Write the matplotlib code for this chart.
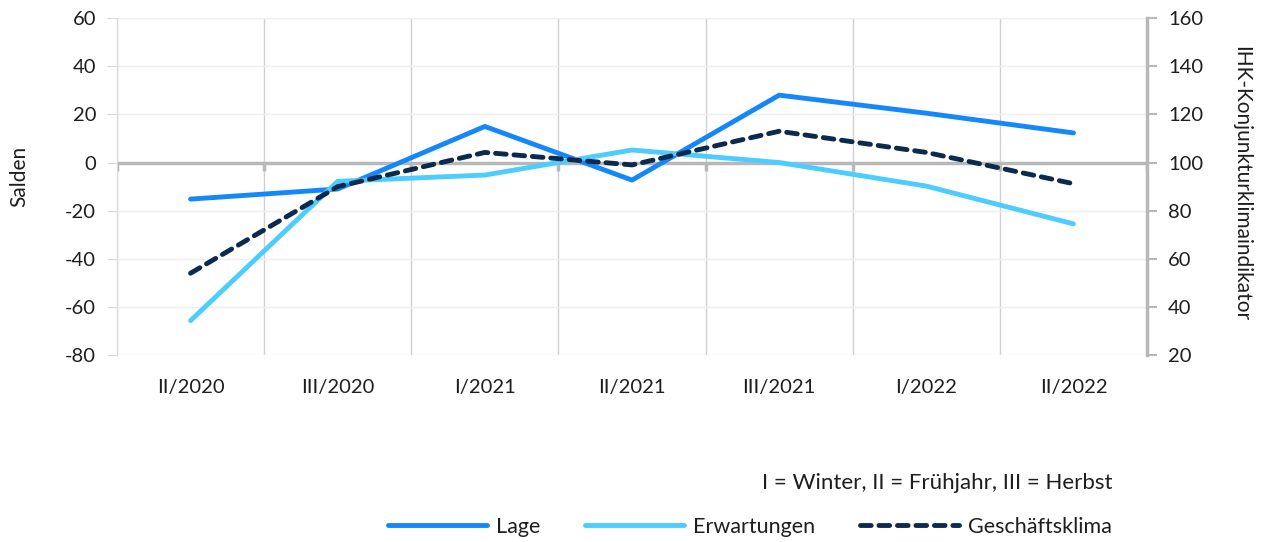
import numpy as np
import matplotlib.pyplot as plt
from matplotlib.lines import Line2D

plt.rcParams['font.family'] = ['Lato', 'DejaVu Sans']
plt.rcParams['axes.unicode_minus'] = False

quartale = ['II/2020', 'III/2020', 'I/2021', 'II/2021', 'III/2021', 'I/2022', 'II/2022']
lage = [-15.2, -11.0, 15.0, -7.3, 28.0, 20.5, 12.3]
erwartungen = [-65.7, -7.8, -5.2, 5.2, 0.0, -9.8, -25.5]
geschaeftsklima = [54.0, 90.0, 104.2, 99.0, 113.0, 104.2, 91.2]

c_lage = '#1487fb'
c_erw = '#4dcdfd'
c_klima = '#0c2a4d'
grau = '#b8b8b8'
txt = '#1e1e1e'

fig = plt.figure(figsize=(12.69, 5.42), dpi=100)
ax = fig.add_axes([0.0922, 0.345, 0.8117, 0.6215])
ax2 = ax.twinx()

x = np.arange(len(quartale))
grenzen = np.arange(-0.5, len(quartale) + 0.5, 1)

# Gitter
for b in grenzen:
    ax.axvline(b, color='#d0d0d0', lw=1.0, zorder=0)
for yv in range(-80, 61, 20):
    if yv != 0:
        ax.axhline(yv, color='#efefef', lw=1.0, zorder=0)
ax.axhline(0, color=grau, lw=2.5, zorder=1)
# kleine Striche unter der Nulllinie
ax.plot(grenzen, np.zeros(len(grenzen)), ls='none', marker=3, ms=6, mew=2.5,
        color=grau, zorder=1)

ax.plot(x, lage, color=c_lage, lw=3.5, solid_capstyle='round', zorder=3)
ax.plot(x, erwartungen, color=c_erw, lw=3.5, solid_capstyle='round', zorder=3)
ax2.plot(x, geschaeftsklima, color=c_klima, lw=3.5, ls=(0, (2.2, 1.6)),
         dash_capstyle='round', zorder=4)

ax.set_xlim(-0.5, len(quartale) - 0.5)
ax.set_ylim(-80, 60)
ax2.set_ylim(20, 160)
ax.set_yticks(range(-80, 61, 20))
ax2.set_yticks(range(20, 161, 20))
ax.set_xticks(x)
ax.set_xticklabels(quartale)

for s in ['top', 'bottom', 'right']:
    ax.spines[s].set_visible(False)
for s in ['top', 'bottom', 'left']:
    ax2.spines[s].set_visible(False)
ax.spines['left'].set_color('#d9d9d9')
ax2.spines['right'].set_color(grau)
ax2.spines['right'].set_linewidth(2.5)

ax.tick_params(axis='y', length=7, color='#d9d9d9', labelsize=14.5, labelcolor=txt, pad=8)
ax.tick_params(axis='x', length=0, labelsize=14.5, labelcolor=txt, pad=17)
ax2.tick_params(axis='y', length=7, width=1.5, color=grau, labelsize=14.5,
                labelcolor=txt, pad=8)

ax.set_ylabel('Salden', fontsize=15, color=txt)
ax.yaxis.set_label_coords(-0.085, 0.53)
ax2.set_ylabel('IHK-Konjunkturklimaindikator', fontsize=15, color=txt,
               rotation=270, va='bottom')
ax2.yaxis.set_label_coords(1.082, 0.51)

fig.text(1112 / 1269, 1 - 483 / 542, 'I = Winter, II = Frühjahr, III = Herbst',
         ha='right', va='center', fontsize=16, color=txt)

handles = [
    Line2D([], [], color=c_lage, lw=3.5, solid_capstyle='round'),
    Line2D([], [], color=c_erw, lw=3.5, solid_capstyle='round'),
    Line2D([], [], color=c_klima, lw=3.5, ls=(0, (2.2, 1.6)), dash_capstyle='round'),
]
fig.legend(handles, ['Lage', 'Erwartungen', 'Geschäftsklima'], loc='center',
           bbox_to_anchor=(750 / 1269, 1 - 527 / 542), ncol=3, frameon=False,
           fontsize=15.5, handlelength=4.6, handletextpad=0.4, columnspacing=2.1,
           labelcolor=txt, borderpad=0)

plt.savefig('out.png', dpi=100)
